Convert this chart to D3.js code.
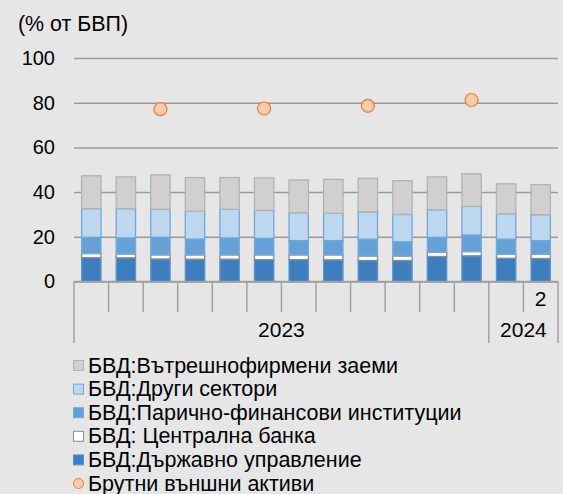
<!DOCTYPE html>
<html>
<head>
<meta charset="utf-8">
<script src="https://d3js.org/d3.v7.min.js"></script>
<style>
  body { margin: 0; background: #e6e6e6; }
  svg { display: block; font-family: "Liberation Sans", Arial, sans-serif; }
</style>
</head>
<body>
<svg id="chart" width="563" height="494"></svg>
<script>
// months (only the last one is labelled in the original)
const months = ["", "", "", "", "", "", "", "", "", "", "", "", "", "2"];
const years = [{ name: "2023", n: 12 }, { name: "2024", n: 2 }];

// % of GDP, stacked from the bottom up
const govt   = [10.7, 10.6, 10.1, 10.0, 10.0, 9.8, 9.8, 9.7, 9.4, 9.4, 11.2, 11.5, 10.4, 10.3];
const cbank  = [1.8, 1.7, 1.8, 1.9, 1.9, 2.1, 2.1, 2.2, 2.0, 2.0, 1.9, 1.9, 1.8, 1.9];
const mfi    = [7.3, 7.2, 7.9, 7.1, 7.6, 7.4, 6.4, 6.4, 7.5, 6.4, 6.7, 7.4, 6.7, 6.1];
const other  = [12.8, 13.1, 12.5, 12.4, 12.8, 12.5, 12.5, 12.2, 12.3, 12.2, 12.3, 12.8, 11.4, 11.6];
const intra  = [14.7, 14.2, 15.4, 15.1, 14.2, 14.6, 14.6, 15.2, 15.0, 15.1, 14.7, 14.6, 13.4, 13.4];
// gross external assets, quarterly (Mar, Jun, Sep, Dec 2023)
const assetIdx = [2, 5, 8, 11];
const assets   = [77.1, 77.4, 78.6, 81.2];

const yTicks = [0, 20, 40, 60, 80, 100];

const series = [
  { key: "govt",  label: "БВД:Държавно управление", values: govt, fill: "#3d7ebf", stroke: "#5a95cf" },
  { key: "cbank", label: "БВД: Централна банка", values: cbank, fill: "#ffffff", stroke: "#8c8c8c" },
  { key: "mfi",   label: "БВД:Парично-финансови институции", values: mfi, fill: "#65a0d6", stroke: "#75aadb" },
  { key: "other", label: "БВД:Други сектори", values: other, fill: "#bdd7ee", stroke: "#6fa7dc" },
  { key: "intra", label: "БВД:Вътрешнофирмени заеми", values: intra, fill: "#d1cfd0", stroke: "#b3b1b2" }
];

const svg = d3.select("#chart");
const plotLeft = 74, plotRight = 558, plotTop = 58, plotBottom = 281.5;

const x = d3.scaleBand().domain(d3.range(months.length)).range([plotLeft, plotRight])
  .paddingInner(0.44).paddingOuter(0.22);
const y = d3.scaleLinear().domain([0, 100]).range([plotBottom, plotTop]);

// title
svg.append("text").attr("x", 18).attr("y", 31.3).attr("font-size", 21.4).attr("fill", "#000")
  .text("(% от БВП)");

// gridlines + y labels
const yAxis = svg.append("g").attr("transform", "translate(" + plotLeft + ",0)")
  .call(d3.axisLeft(y).tickValues(yTicks).tickSize(-(plotRight - plotLeft)).tickPadding(19).tickFormat(d3.format("d")));
yAxis.select(".domain").remove();
yAxis.selectAll(".tick line").attr("stroke", "#9a9a9a").attr("stroke-width", 1.5);
yAxis.selectAll(".tick text").attr("font-size", 20).attr("fill", "#000").attr("font-family", "Liberation Sans, Arial, sans-serif");

// stacked bars
const stackData = months.map((m, i) => {
  const o = { i: i };
  series.forEach(s => o[s.key] = s.values[i]);
  return o;
});
const stacked = d3.stack().keys(series.map(s => s.key))(stackData);

svg.append("g").selectAll("g")
  .data(stacked)
  .enter().append("g")
    .attr("fill", (d, k) => series[k].fill)
    .attr("stroke", (d, k) => series[k].stroke)
    .attr("stroke-width", 1.3)
  .selectAll("rect")
  .data(d => d)
  .enter().append("rect")
    .attr("x", d => x(d.data.i))
    .attr("width", x.bandwidth())
    .attr("y", d => y(d[1]))
    .attr("height", d => y(d[0]) - y(d[1]));

// category axis (multi-level)
const step = x.step();
const ax = svg.append("g").attr("stroke", "#a0a0a0").attr("stroke-width", 1.5);
ax.append("line").attr("x1", plotLeft).attr("x2", plotRight).attr("y1", plotBottom).attr("y2", plotBottom);
let acc = 0;
const yearEdges = [0];
years.forEach(yr => { acc += yr.n; yearEdges.push(acc); });
d3.range(months.length + 1).forEach(k => {
  const xx = plotLeft + k * step;
  const long = yearEdges.includes(k);
  ax.append("line").attr("x1", xx).attr("x2", xx).attr("y1", plotBottom).attr("y2", long ? 343 : 312);
});
svg.append("g").selectAll("text")
  .data(months)
  .enter().append("text")
    .attr("x", (d, i) => x(i) + x.bandwidth() / 2)
    .attr("y", 306)
    .attr("text-anchor", "middle")
    .attr("font-size", 21)
    .text(d => d);
svg.append("g").selectAll("text")
  .data(years)
  .enter().append("text")
    .attr("x", (d, k) => plotLeft + (yearEdges[k] + yearEdges[k + 1]) / 2 * step)
    .attr("y", 337)
    .attr("text-anchor", "middle")
    .attr("font-size", 21)
    .text(d => d.name);

// gross external assets
svg.append("g").selectAll("circle")
  .data(assets)
  .enter().append("circle")
    .attr("cx", (d, k) => x(assetIdx[k]) + x.bandwidth() / 2)
    .attr("cy", d => y(d))
    .attr("r", 6.5)
    .attr("fill", "#f8cbad")
    .attr("stroke", "#ed7d31")
    .attr("stroke-width", 1.2);

// legend
const legendItems = series.slice().reverse().map(s => ({ label: s.label, fill: s.fill, stroke: s.stroke, type: "rect" }));
legendItems.push({ label: "Брутни външни активи", fill: "#f8cbad", stroke: "#ed7d31", type: "circle" });
const lg = svg.append("g");
legendItems.forEach((it, k) => {
  const cy = 365.5 + k * 23.6;
  if (it.type === "rect") {
    lg.append("rect").attr("x", 73.5).attr("y", cy - 5).attr("width", 10).attr("height", 10)
      .attr("fill", it.fill).attr("stroke", it.stroke).attr("stroke-width", 1);
  } else {
    lg.append("circle").attr("cx", 78.5).attr("cy", cy).attr("r", 5)
      .attr("fill", it.fill).attr("stroke", it.stroke).attr("stroke-width", 1);
  }
  lg.append("text").attr("x", 88).attr("y", cy + 7).attr("font-size", 21.5).text(it.label);
});
</script>
</body>
</html>
